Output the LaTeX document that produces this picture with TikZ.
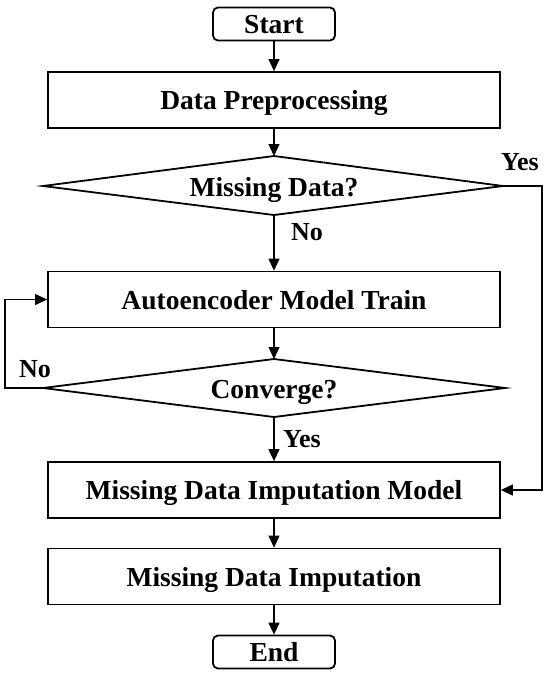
\documentclass[tikz,border=0pt]{standalone}
\usepackage{fontspec}
\setmainfont{Liberation Serif}
\usetikzlibrary{arrows.meta,shapes.geometric}
\begin{document}
\begin{tikzpicture}[x=1pt,y=-1pt,
  txt/.style={font=\bfseries\fontsize{27.5}{30}\selectfont,inner sep=0pt,text height=20pt,text depth=1pt},
  box/.style={txt,draw,line width=1.8pt,minimum width=452pt,minimum height=56pt},
  term/.style={txt,draw,line width=1.8pt,rounded corners=5pt,minimum width=122pt,minimum height=33pt},
  lbl/.style={font=\bfseries\fontsize{26}{28}\selectfont,inner sep=0pt,anchor=base},
  conn/.style={line width=1.2pt,-{Triangle[length=12pt,width=11pt]}}]
\useasboundingbox (0,0) rectangle (550,678);
\node[term] (start) at (274,24) {Start};
\node[box] (prep) at (274,100) {Data Preprocessing};
\coordinate (d1l) at (43,186);
\coordinate (d1t) at (274,156);
\coordinate (d1r) at (503,186);
\coordinate (d1b) at (274,215);
\draw[line width=1.8pt] (d1l) -- (d1t) -- (d1r) -- (d1b) -- cycle;
\node[txt] (q1) at (274,186.5) {Missing Data?};
\node[box] (ae) at (274,299.5) {Autoencoder Model Train};
\coordinate (d2l) at (43,388);
\coordinate (d2t) at (274,359);
\coordinate (d2r) at (505,388);
\coordinate (d2b) at (274,417);
\draw[line width=1.8pt] (d2l) -- (d2t) -- (d2r) -- (d2b) -- cycle;
\node[txt] (q2) at (274,389) {Converge?};
\node[box] (model) at (274,490) {Missing Data Imputation Model};
\node[box] (imp) at (274,576.5) {Missing Data Imputation};
\node[term] (end) at (274,652) {End};
\draw[conn] (start) -- (prep);
\draw[conn] (prep) -- (d1t);
\draw[conn] (d1b) -- (ae);
\draw[conn] (ae) -- (d2t);
\draw[conn] (d2b) -- (model);
\draw[conn] (model) -- (imp);
\draw[conn] (imp) -- (end);
\coordinate (yr) at (542,186);
\coordinate (ym) at (542,490);
\draw[conn] (d1r) -- (yr) -- (ym) -- (model.east);
\coordinate (nl) at (5,388);
\coordinate (nt) at (5,299.5);
\draw[conn] (d2l) -- (nl) -- (nt) -- (ae.west);
\node[lbl] (yes1) at (520,170) {Yes};
\node[lbl] (no1) at (307,240) {No};
\node[lbl] (no2) at (35,377) {No};
\node[lbl] (yes2) at (302,447) {Yes};
\end{tikzpicture}
\end{document}
